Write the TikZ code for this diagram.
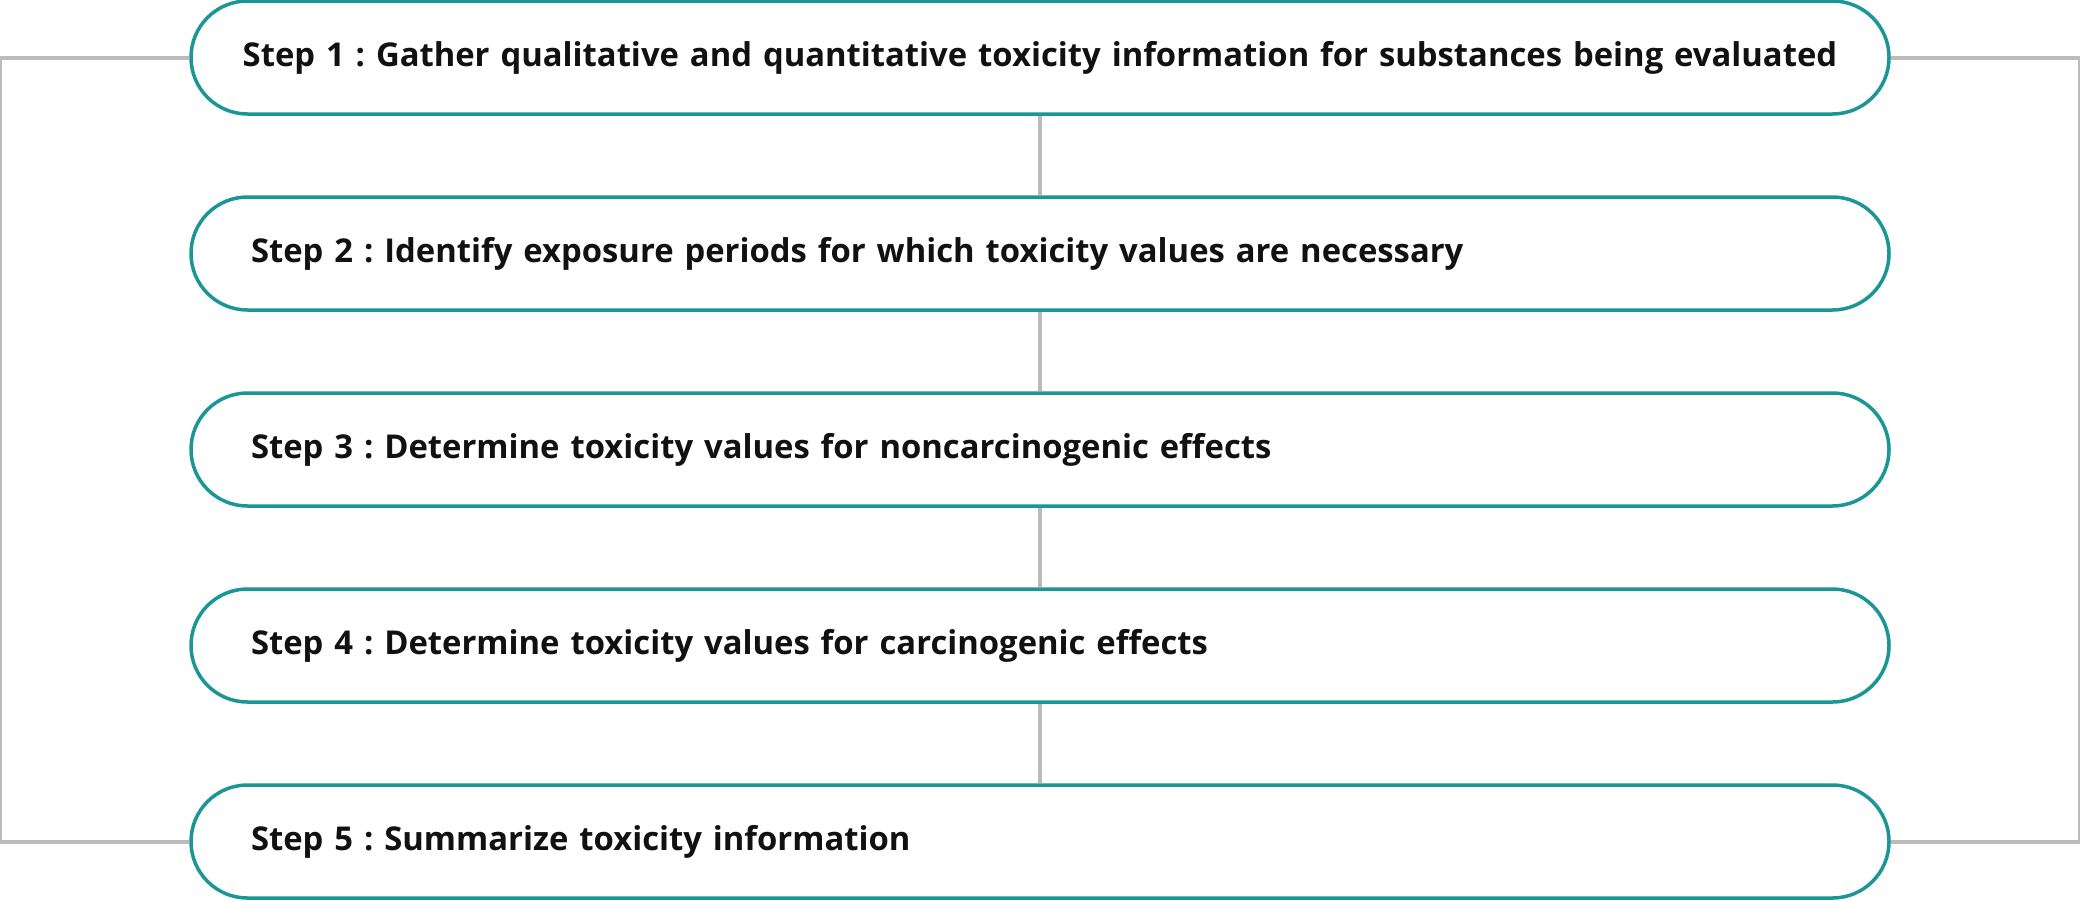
\documentclass[tikz,border=0pt]{standalone}
\usepackage{fontspec}
\setmainfont{Open Sans}
\frenchspacing
\usetikzlibrary{positioning}
\definecolor{stepteal}{HTML}{1A9696}
\definecolor{linkgray}{HTML}{BBBBBB}
\definecolor{textblack}{HTML}{111111}

\begin{document}
\begin{tikzpicture}[
         x=0.5pt, y=-0.5pt,
         node distance=39.75pt,
         stepbox/.style = {draw=stepteal, line width=1.75pt, rounded corners=28.25pt,
         minimum width=849pt, minimum height=56.5pt, inner xsep=30pt,
         text width=789pt, align=left, text=textblack,
         font=\fontsize{16.4pt}{20pt}\selectfont\bfseries},
         link/.style = {draw=linkgray, line width=2pt}
]
   \useasboundingbox (0,0) rectangle (2080,900);

   % the five steps
   \node[stepbox, align=center, inner xsep=14.5pt, text width=820pt] (s1) at (1040,57.5)
      {Step 1 : Gather qualitative and quantitative toxicity information for substances being evaluated};
   \node[stepbox, below=of s1] (s2) {Step 2 : Identify exposure periods for which toxicity values are necessary};
   \node[stepbox, below=of s2] (s3) {Step 3 : Determine toxicity values for noncarcinogenic effects};
   \node[stepbox, below=of s3] (s4) {Step 4 : Determine toxicity values for carcinogenic effects};
   \node[stepbox, below=of s4] (s5) {Step 5 : Summarize toxicity information};

   % links between steps
   \foreach \a/\b in {s1/s2, s2/s3, s3/s4, s4/s5}
      \draw[link] (\a.south) -- (\b.north);

   % outer loop
   \draw[link] (s1.west) -- ++(-189,0) |- (s5.west);
   \draw[link] (s1.east) -- ++(189,0) |- (s5.east);
\end{tikzpicture}
\end{document}
